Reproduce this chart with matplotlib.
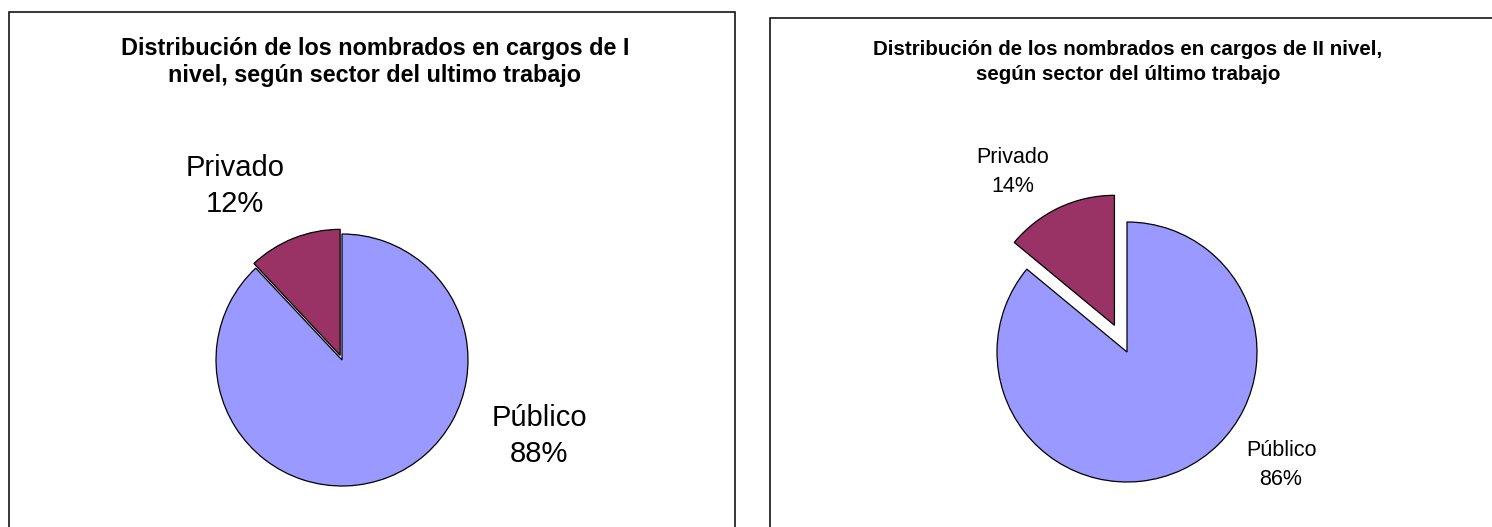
import matplotlib
matplotlib.use("Agg")
import matplotlib.pyplot as plt
from matplotlib.patches import Rectangle

plt.rcParams['font.family'] = ['Liberation Sans', 'DejaVu Sans']

# Data
sectors = ["Privado", "Público"]
nivel1_values = [12, 88]
nivel2_values = [14, 86]
titles = [
    "Distribución de los nombrados en cargos de I\nnivel, según sector del ultimo trabajo",
    "Distribución de los nombrados en cargos de II nivel,\nsegún sector del último trabajo",
]
colors = ["#993366", "#9999FF"]

W, H = 1492, 527
fig = plt.figure(figsize=(W / 100, H / 100), dpi=100)
ax = fig.add_axes([0, 0, 1, 1])

def py(y):
    return H - y

wedge_kw = dict(edgecolor='black', linewidth=0.9)

# Left pie (explode offsets in data/pixel units)
ax.pie(nivel1_values, colors=colors, startangle=90, counterclock=True,
       center=(342, py(360)), radius=126, explode=[5, 0],
       wedgeprops=wedge_kw, frame=True)
# Right pie
ax.pie(nivel2_values, colors=colors, startangle=90, counterclock=True,
       center=(1127, py(352)), radius=130, explode=[29.5, 0],
       wedgeprops=wedge_kw, frame=True)
ax.set_xlim(0, W)
ax.set_ylim(0, H)
ax.set_aspect('equal')
ax.axis('off')

# Panel borders
ax.add_patch(Rectangle((9, py(560)), 726, 548, fill=False, edgecolor='black', lw=1.1))
ax.add_patch(Rectangle((770, py(560)), 760, 542, fill=False, edgecolor='black', lw=1.1))

# Titles
ax.text(375, py(62), titles[0], ha='center', va='center', fontsize=16.8,
        fontweight='bold', linespacing=1.25)
ax.text(1128, py(62), titles[1], ha='center', va='center', fontsize=14.8,
        fontweight='bold', linespacing=1.45)

# Labels
ax.text(235, py(186), f"{sectors[0]}\n{nivel1_values[0]}%", ha='center', va='center',
        fontsize=21, linespacing=1.4)
ax.text(539, py(436), f"{sectors[1]}\n{nivel1_values[1]}%", ha='center', va='center',
        fontsize=21, linespacing=1.4)
ax.text(1013, py(172), f"{sectors[0]}\n{nivel2_values[0]}%", ha='center', va='center',
        fontsize=15.5, linespacing=1.5)
ax.text(1281, py(465), f"{sectors[1]}\n{nivel2_values[1]}%", ha='center', va='center',
        fontsize=15.5, linespacing=1.55)

fig.savefig("out.png", dpi=100)
